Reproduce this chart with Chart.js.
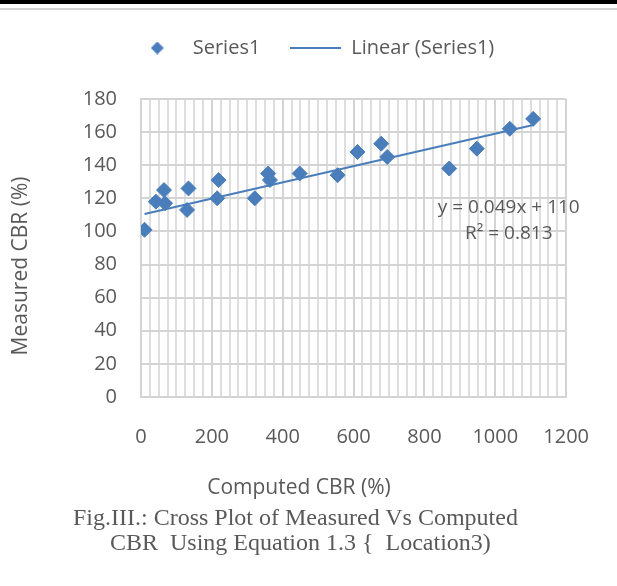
<!DOCTYPE html>
<html><head><meta charset="utf-8">
<script src="https://cdn.jsdelivr.net/npm/chart.js@4/dist/chart.umd.min.js"></script>
<style>
html,body{margin:0;padding:0;background:#fff;}
#wrap{position:relative;width:617px;height:586px;overflow:hidden;background:#fff;}
#c{position:absolute;left:0;top:0;}
#topbar{position:absolute;left:0;top:0;width:617px;height:4px;background:#000;}
#topline{position:absolute;left:0;top:8px;width:617px;height:2px;background:#d4d4d4;}
.cap{position:absolute;font-family:"Liberation Serif","Times New Roman",serif;font-size:24px;line-height:26px;color:#595959;white-space:pre;}
</style></head><body>
<div id="wrap">
<canvas id="c" width="617" height="586"></canvas>
<div id="topbar"></div><div id="topline"></div>
<div class="cap" style="left:73px;top:504px">Fig.III.: Cross Plot of Measured Vs Computed</div>
<div class="cap" style="left:110px;top:529px">CBR  Using Equation 1.3 {  Location3)</div>
</div>
<script>
// ---- data ----
const computedCBR = [10, 42, 65, 68, 130, 134, 215, 219, 321, 359, 364, 448, 555, 611, 678, 695, 870, 948, 1041, 1107];
const measuredCBR = [101, 118, 125, 117, 113, 126, 120, 131, 120, 135, 131, 135, 134, 148, 153, 145, 138, 150, 162, 168];
const trendSlope = 0.049;
const trendIntercept = 110;
const xTickValues = [0, 200, 400, 600, 800, 1000, 1200];
const xMinorStep = 25;
const yTickValues = [0, 20, 40, 60, 80, 100, 120, 140, 160, 180];
const seriesNames = ['Series1', 'Linear (Series1)'];
const xTitle = 'Computed CBR (%)';
const yTitle = 'Measured CBR (%)';
const equationLines = ['y = 0.049x + 110', 'R\u00b2 = 0.813'];

const BLUE = '#4a7ebb';
const TEXT = '#595959';
Chart.defaults.font.family = '"Open Sans", sans-serif';
Chart.defaults.color = TEXT;

const scatterPoints = computedCBR.map((x, i) => ({x: x, y: measuredCBR[i]}));
const xMin = Math.min(...computedCBR), xMax = Math.max(...computedCBR);
const trendPoints = [xMin, xMax].map(x => ({x: x, y: trendSlope * x + trendIntercept}));

// legend icons
function makeDiamond() {
  const c = document.createElement('canvas'); c.width = 13; c.height = 13;
  const g = c.getContext('2d'); g.fillStyle = BLUE; g.beginPath();
  g.moveTo(6.5, 0); g.lineTo(13, 6.5); g.lineTo(6.5, 13); g.lineTo(0, 6.5); g.closePath(); g.fill();
  return c;
}
function makeLine() {
  const c = document.createElement('canvas'); c.width = 51; c.height = 2;
  const g = c.getContext('2d'); g.fillStyle = BLUE; g.fillRect(0, 0, 51, 2);
  return c;
}
const legendIcons = [makeDiamond(), makeLine()];

const textPlugin = {
  id: 'extraTexts',
  afterDraw(chart) {
    const {ctx} = chart; const xs = chart.scales.x, ys = chart.scales.y;
    ctx.save();
    ctx.fillStyle = TEXT; ctx.textAlign = 'center'; ctx.textBaseline = 'middle';
    ctx.font = '19px "Open Sans"';
    const ex = xs.getPixelForValue(1038);
    ctx.fillText(equationLines[0], ex, ys.getPixelForValue(114.2));
    ctx.fillText(equationLines[1], ex, ys.getPixelForValue(98.5));
    ctx.font = '21px "Open Sans"';
    ctx.fillText(xTitle, 299, 488);
    ctx.translate(21, 266); ctx.rotate(-Math.PI / 2);
    ctx.fillText(yTitle, 0, 0);
    ctx.restore();
  }
};

new Chart(document.getElementById('c'), {
  type: 'scatter',
  data: {
    datasets: [
      {label: seriesNames[0], data: scatterPoints, pointStyle: 'rectRot', pointRadius: 7.5, pointHoverRadius: 7.5,
       backgroundColor: BLUE, borderColor: BLUE, borderWidth: 1, order: 2},
      {type: 'line', label: seriesNames[1], data: trendPoints, borderColor: BLUE, borderWidth: 2,
       pointRadius: 0, fill: false, order: 1}
    ]
  },
  plugins: [textPlugin],
  options: {
    responsive: false, animation: false,
    layout: {padding: {top: 8, left: 56, right: 47, bottom: 0}},
    plugins: {
      tooltip: {enabled: false},
      legend: {
        position: 'top', weight: 2500,
        labels: {
          usePointStyle: true, pointStyleWidth: 51, padding: 30,
          font: {size: 20}, color: TEXT,
          generateLabels: (chart) => chart.data.datasets.map((ds, i) => ({
            text: ds.label, pointStyle: legendIcons[i], fillStyle: BLUE, strokeStyle: BLUE,
            lineWidth: 0, hidden: false, datasetIndex: i, fontColor: TEXT
          }))
        }
      },
      subtitle: {display: true, text: '', padding: 0, font: {size: 31, lineHeight: 1}}
    },
    scales: {
      xMinor: {
        type: 'linear', position: 'bottom', min: 0, max: 1200, weight: 5,
        afterFit: s => { s.height = 0; },
        afterBuildTicks: s => { s.ticks = []; for (let v = 0; v <= 1200; v += xMinorStep) s.ticks.push({value: v}); },
        ticks: {display: false},
        grid: {drawTicks: false,
               color: c => (c.tick && xTickValues.includes(c.tick.value)) ? 'rgba(0,0,0,0)' : '#dedede',
               lineWidth: 2},
        border: {display: false}
      },
      x: {
        type: 'linear', position: 'bottom', min: 0, max: 1200, weight: 0,
        afterFit: s => { s.height = 189; },
        afterBuildTicks: s => { s.ticks = xTickValues.map(v => ({value: v})); },
        ticks: {autoSkip: false, maxRotation: 0, padding: 28, font: {size: 20}, color: TEXT,
                callback: v => String(v)},
        grid: {drawTicks: false, color: '#d4d4d4', lineWidth: 2},
        border: {color: '#d4d4d4', width: 2}
      },
      y: {
        type: 'linear', min: 0, max: 180,
        afterFit: s => { s.width = 85; },
        afterBuildTicks: s => { s.ticks = yTickValues.map(v => ({value: v})); },
        ticks: {padding: 24, font: {size: 20}, color: TEXT, callback: v => String(v)},
        grid: {drawTicks: false, color: '#d4d4d4', lineWidth: 2},
        border: {color: '#d4d4d4', width: 2}
      }
    }
  }
});
</script>
</body></html>
